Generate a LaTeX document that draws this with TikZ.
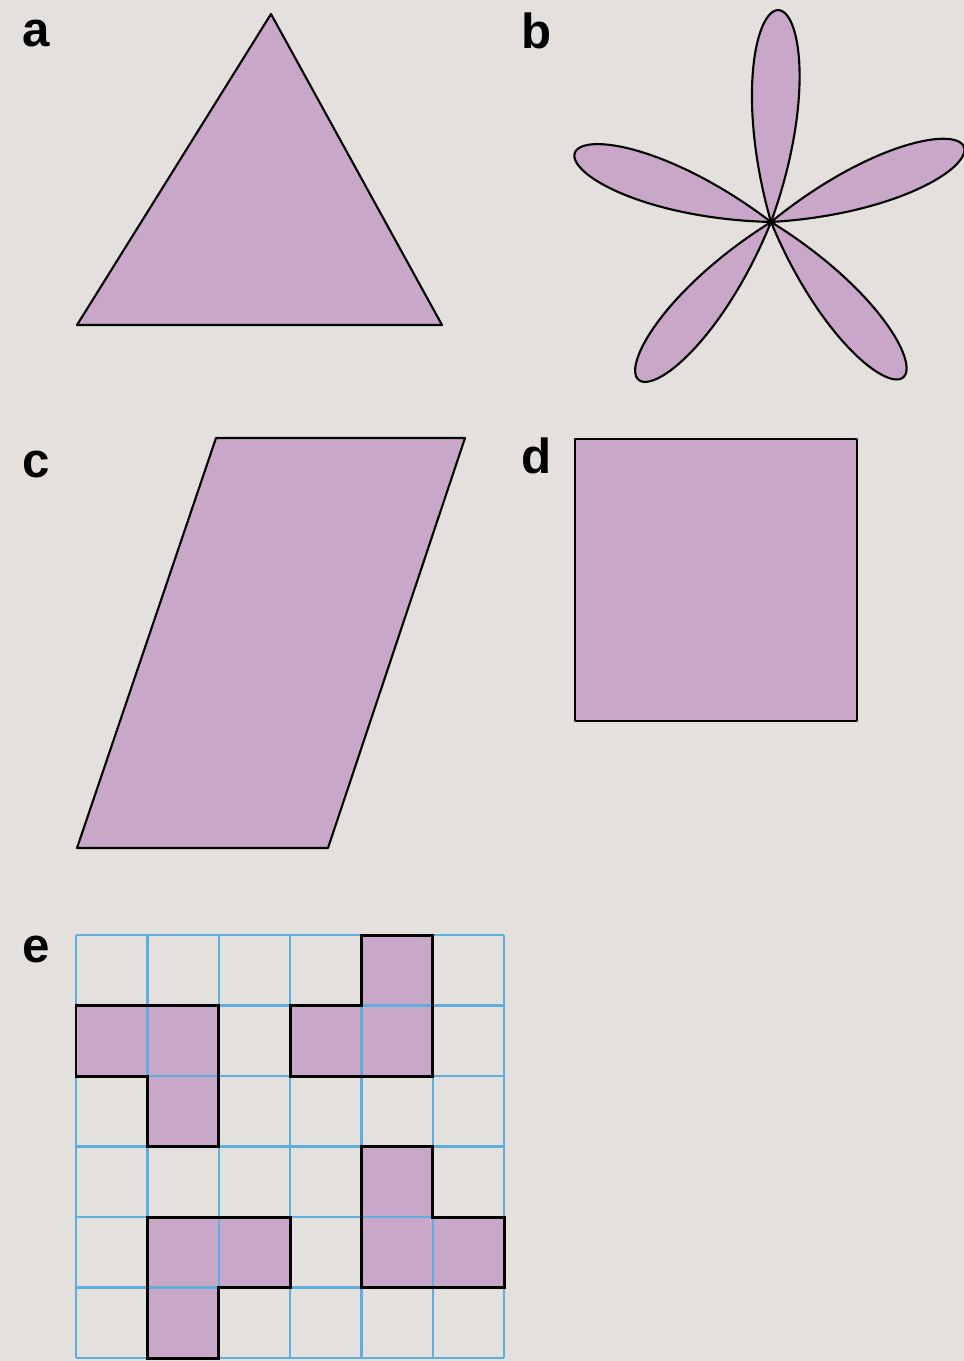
\documentclass[tikz,border=0pt]{standalone}
\usepackage{fontspec}
\setmainfont{Liberation Sans}
\usepackage{xcolor}
\definecolor{bgcol}{RGB}{228,224,221}
\definecolor{mauve}{RGB}{201,167,201}
\definecolor{gridblue}{RGB}{95,175,222}

\begin{document}
\begin{tikzpicture}[x=0.01cm, y=-0.01cm,
  figfill/.style={draw=black, fill=mauve, line width=0.6pt, line join=round},
  panel/.style={font=\fontsize{14}{16}\selectfont\bfseries, anchor=base west, inner sep=0pt},
  gridline/.style={draw=gridblue, line width=0.7pt},
  piece/.style={draw=black, line width=0.85pt, line join=miter}]
  \fill[bgcol] (0,0) rectangle (964,1361);
  \useasboundingbox (0,0) rectangle (964,1361);
  %% a: triangle
  \node[panel] (lbla) at (22,47) {a};
  \draw[figfill] (271,14) -- (442,325) -- (77,325) -- cycle;
  %% b: five petals round one centre
  \node[panel] (lblb) at (521,49) {b};
  \coordinate (ctr) at (771,222);
  \foreach \ang/\len in {88/212, 160.6/208, 230/206, 310.4/204, 21.3/207}
    \draw[figfill, domain=-18:18, samples=90]
      plot ({771+\len*cos(5*\x)*cos(\x+\ang)}, {222-\len*cos(5*\x)*sin(\x+\ang)}) -- cycle;
  %% c: parallelogram
  \node[panel] (lblc) at (22,477) {c};
  \draw[figfill] (216,438) -- (465,438) -- (328,848) -- (77,848) -- cycle;
  %% d: square
  \node[panel] (lbld) at (521,473) {d};
  \draw[figfill] (575,439) rectangle (857,721);
  %% e: pieces on a 6x6 grid
  \node[panel] (lble) at (22,962) {e};
  \begin{scope}[shift={(76,935)}, x=0.7133cm, y=-0.705cm]
    \foreach \c/\r in {0/1,1/1,1/2, 4/0,3/1,4/1, 4/3,4/4,5/4, 1/4,2/4,1/5}
      \fill[mauve] (\c,\r) rectangle ++(1,1);
    \foreach \i in {0,...,6} {
      \draw[gridline] (\i,0) -- (\i,6);
      \draw[gridline] (0,\i) -- (6,\i);
    }
    \draw[piece] (0,1) -- (2,1) -- (2,3) -- (1,3) -- (1,2) -- (0,2) -- cycle;
    \draw[piece] (4,0) -- (5,0) -- (5,2) -- (3,2) -- (3,1) -- (4,1) -- cycle;
    \draw[piece] (4,3) -- (5,3) -- (5,4) -- (6,4) -- (6,5) -- (4,5) -- cycle;
    \draw[piece] (1,4) -- (3,4) -- (3,5) -- (2,5) -- (2,6) -- (1,6) -- cycle;
  \end{scope}
\end{tikzpicture}
\end{document}
